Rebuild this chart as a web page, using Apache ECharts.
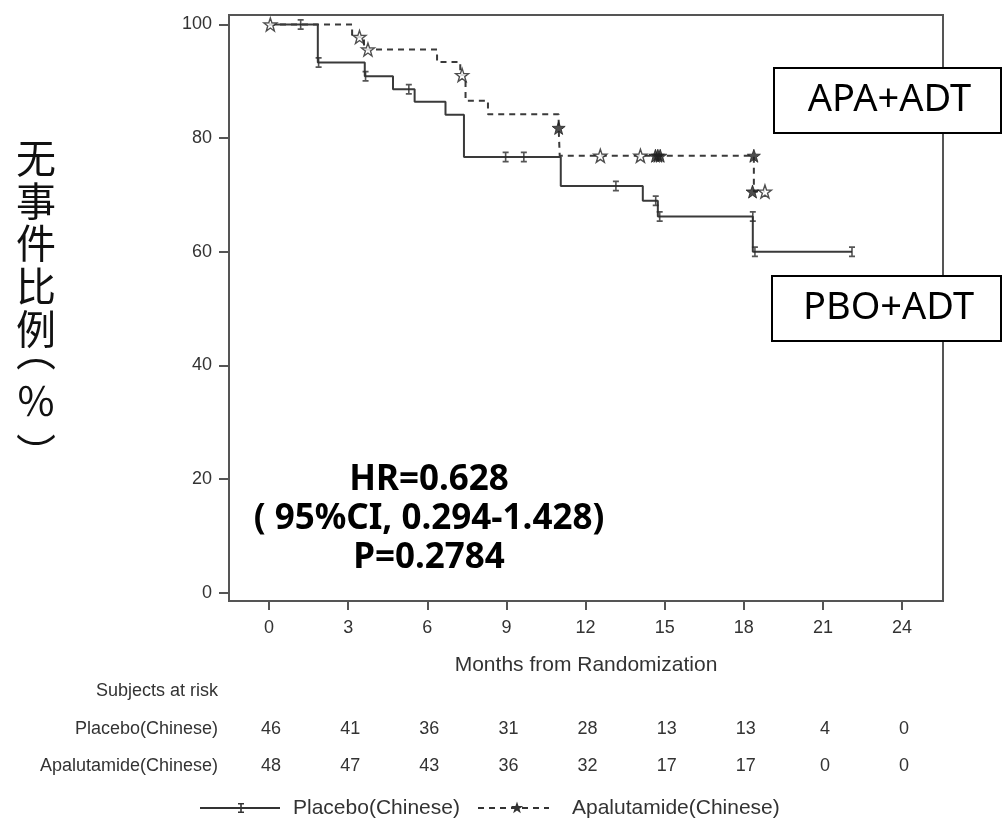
<!DOCTYPE html>
<html>
<head>
<meta charset="utf-8">
<title>KM curve</title>
<script src="https://cdn.jsdelivr.net/npm/echarts@6/dist/echarts.min.js"></script>
<style>
html,body{margin:0;padding:0;background:#fff;}
#report{width:1007px;height:818px;}
</style>
</head>
<body>
<div id="report"></div>
<script>
// axis ticks
var monthTicks = [0, 3, 6, 9, 12, 15, 18, 21, 24];
var pctTicks = [0, 20, 40, 60, 80, 100];

// Placebo step curve (time of drop, survival after drop)
var pboT = [0, 1.85, 3.63, 4.7, 5.52, 6.69, 7.39, 11.06, 14.17, 14.74, 18.34, 22.1];
var pboS = [100, 93.3, 90.9, 88.6, 86.4, 84.1, 76.7, 71.6, 69.0, 66.2, 60.0, 60.0];
// Placebo censor marks
var pboCensorT = [1.2, 1.88, 3.66, 5.3, 8.97, 9.66, 13.15, 14.66, 14.81, 18.34, 18.42, 22.1];
var pboCensorS = [100, 93.3, 90.9, 88.6, 76.7, 76.7, 71.6, 69.0, 66.2, 66.2, 60.0, 60.0];

// Apalutamide step curve
var apaT = [0, 3.15, 3.6, 6.37, 7.25, 7.45, 8.3, 10.98, 11.02, 18.38, 18.8];
var apaS = [100, 97.8, 95.6, 93.4, 91.1, 86.6, 84.2, 81.8, 76.9, 70.6, 70.6];
// Apalutamide censor marks (open / filled stars)
var apaOpenT = [0.05, 3.43, 3.75, 7.32, 12.56, 14.08, 18.8];
var apaOpenS = [100, 97.8, 95.6, 91.1, 76.9, 76.9, 70.6];
var apaFilledT = [10.98, 14.65, 14.74, 14.83, 18.38, 18.33];
var apaFilledS = [81.8, 76.9, 76.9, 76.9, 76.9, 70.6];

// subjects at risk
var riskRows = ['Placebo(Chinese)', 'Apalutamide(Chinese)'];
var riskPbo = [46, 41, 36, 31, 28, 13, 13, 4, 0];
var riskApa = [48, 47, 43, 36, 32, 17, 17, 0, 0];

var statLines = ['HR=0.628', '( 95%CI, 0.294-1.428)', 'P=0.2784'];
var yTitleChars = ['无', '事', '件', '比', '例', '︵', '％', '︶'];

var ibeam = 'path://M0,0H6V1.6H3.8V8.4H6V10H0V8.4H2.2V1.6H0Z';
var star = 'path://M0,-10L2.35,-3.24L9.51,-3.09L3.8,1.24L5.88,8.09L0,4L-5.88,8.09L-3.8,1.24L-9.51,-3.09L-2.35,-3.24Z';

var axisCol = '#555';
var txtCol = '#333';
var latin = '"Liberation Sans", Arial, sans-serif';

function zip(a, b) {
	var r = [];
	for (var i = 0; i < a.length; i++) r.push([a[i], b[i]]);
	return r;
}

function starPts(cx, cy, r) {
	var p = [];
	for (var k = 0; k < 10; k++) {
		var ang = -Math.PI / 2 + k * Math.PI / 5;
		var rr = (k % 2 == 0) ? r : r * 0.4;
		p.push([cx + rr * Math.cos(ang), cy + rr * Math.sin(ang)]);
	}
	return p;
}

var myChart = echarts.init(document.getElementById('report'));

var option = {
	animation: false,
	backgroundColor: '#fff',
	grid: {
		left: 229, top: 15, width: 714, height: 586,
		show: true, borderColor: axisCol, borderWidth: 2,
		outerBoundsMode: 'none'
	},
	xAxis: {
		type: 'value',
		min: -1.517, max: 25.55,
		axisLine: {show: true, onZero: false, lineStyle: {color: axisCol, width: 2}},
		axisTick: {show: true, customValues: monthTicks, length: 9, lineStyle: {color: axisCol, width: 2}},
		axisLabel: {customValues: monthTicks, fontSize: 18, color: txtCol, fontFamily: latin, margin: 18},
		splitLine: {show: false},
		name: 'Months from Randomization',
		nameLocation: 'middle',
		nameGap: 54,
		nameTextStyle: {fontSize: 21, color: txtCol, fontFamily: latin}
	},
	yAxis: {
		type: 'value',
		min: -1.44, max: 101.67,
		axisLine: {show: true, onZero: false, lineStyle: {color: axisCol, width: 2}},
		axisTick: {show: true, customValues: pctTicks, length: 10, lineStyle: {color: axisCol, width: 2}},
		axisLabel: {customValues: pctTicks, fontSize: 18, color: txtCol, fontFamily: latin, margin: 17},
		splitLine: {show: false}
	},
	series: [
		{
			name: 'Placebo(Chinese)',
			type: 'line',
			step: 'end',
			data: zip(pboT, pboS),
			symbol: 'none',
			lineStyle: {color: '#3a3a3a', width: 2}
		},
		{
			name: 'Apalutamide(Chinese)',
			type: 'line',
			step: 'end',
			data: zip(apaT, apaS),
			symbol: 'none',
			lineStyle: {color: '#3a3a3a', width: 2, type: [6, 5]}
		},
		{
			type: 'scatter',
			data: zip(pboCensorT, pboCensorS),
			symbol: ibeam,
			symbolSize: [6, 11],
			itemStyle: {color: '#2a2a2a'},
			z: 5
		},
		{
			type: 'scatter',
			data: zip(apaOpenT, apaOpenS),
			symbol: star,
			symbolSize: 13,
			itemStyle: {color: '#fff', borderColor: '#222', borderWidth: 1.4},
			z: 6
		},
		{
			type: 'scatter',
			data: zip(apaFilledT, apaFilledS),
			symbol: star,
			symbolSize: 13,
			itemStyle: {color: '#222', borderColor: '#222', borderWidth: 1},
			z: 6
		}
	]
};

myChart.setOption(option);

// overlays: y title, boxes, stats, risk table, legend
var g = [];
var yTitleY = [158, 201, 243, 286, 329, 351, 401, 453];
for (var c = 0; c < yTitleChars.length; c++) {
	g.push({
		type: 'text', x: 36, y: yTitleY[c],
		style: {
			text: yTitleChars[c], fontSize: 40, fontFamily: '"Noto Sans CJK SC", sans-serif',
			fill: '#111', align: 'center', verticalAlign: 'middle'
		}
	});
}

function box(x, y, w, h, label) {
	g.push({type: 'rect', shape: {x: x, y: y, width: w, height: h}, style: {fill: '#fff', stroke: '#000', lineWidth: 2}, z: 10});
	g.push({type: 'text', x: x + w / 2 + 2, y: y + h / 2, z: 11,
		style: {text: label, fontSize: 38, fontFamily: '"Noto Sans", sans-serif', fill: '#000', align: 'center', verticalAlign: 'middle'}});
}
box(774, 68, 227, 65, 'APA+ADT');
box(772, 276, 229, 65, 'PBO+ADT');

g.push({
	type: 'text', x: 429, y: 461,
	style: {
		text: statLines.join('\n'), fontSize: 35, fontWeight: 'bold', lineHeight: 39,
		fontFamily: '"Noto Sans", sans-serif', fill: '#000', align: 'center', verticalAlign: 'top'
	}
});

g.push({type: 'text', x: 218, y: 691, style: {text: 'Subjects at risk', fontSize: 18, fontFamily: latin, fill: txtCol, align: 'right', verticalAlign: 'middle'}});
var rowY = [729, 766];
var rowVals = [riskPbo, riskApa];
for (var r = 0; r < riskRows.length; r++) {
	g.push({type: 'text', x: 218, y: rowY[r], style: {text: riskRows[r], fontSize: 18, fontFamily: latin, fill: txtCol, align: 'right', verticalAlign: 'middle'}});
	for (var i = 0; i < monthTicks.length; i++) {
		var px = myChart.convertToPixel({xAxisIndex: 0}, monthTicks[i]);
		g.push({type: 'text', x: px + 2, y: rowY[r], style: {text: String(rowVals[r][i]), fontSize: 18, fontFamily: latin, fill: txtCol, align: 'center', verticalAlign: 'middle'}});
	}
}

// legend
var ly = 808;
g.push({type: 'line', shape: {x1: 200, y1: ly, x2: 280, y2: ly}, style: {stroke: '#333', lineWidth: 2}});
g.push({type: 'polygon', shape: {points: [[238, ly - 5], [244, ly - 5], [244, ly - 3.5], [241.8, ly - 3.5], [241.8, ly + 3.5], [244, ly + 3.5], [244, ly + 5], [238, ly + 5], [238, ly + 3.5], [240.2, ly + 3.5], [240.2, ly - 3.5], [238, ly - 3.5]]}, style: {fill: '#333'}});
g.push({type: 'text', x: 293, y: ly, style: {text: 'Placebo(Chinese)', fontSize: 21, fontFamily: latin, fill: txtCol, align: 'left', verticalAlign: 'middle'}});
g.push({type: 'line', shape: {x1: 478, y1: ly, x2: 549, y2: ly}, style: {stroke: '#333', lineWidth: 2, lineDash: [6, 5]}});
g.push({type: 'polygon', shape: {points: starPts(517, ly, 6.5)}, style: {fill: '#333'}, z: 2});
g.push({type: 'text', x: 572, y: ly, style: {text: 'Apalutamide(Chinese)', fontSize: 21, fontFamily: latin, fill: txtCol, align: 'left', verticalAlign: 'middle'}});

myChart.setOption({graphic: g});
</script>
</body>
</html>
